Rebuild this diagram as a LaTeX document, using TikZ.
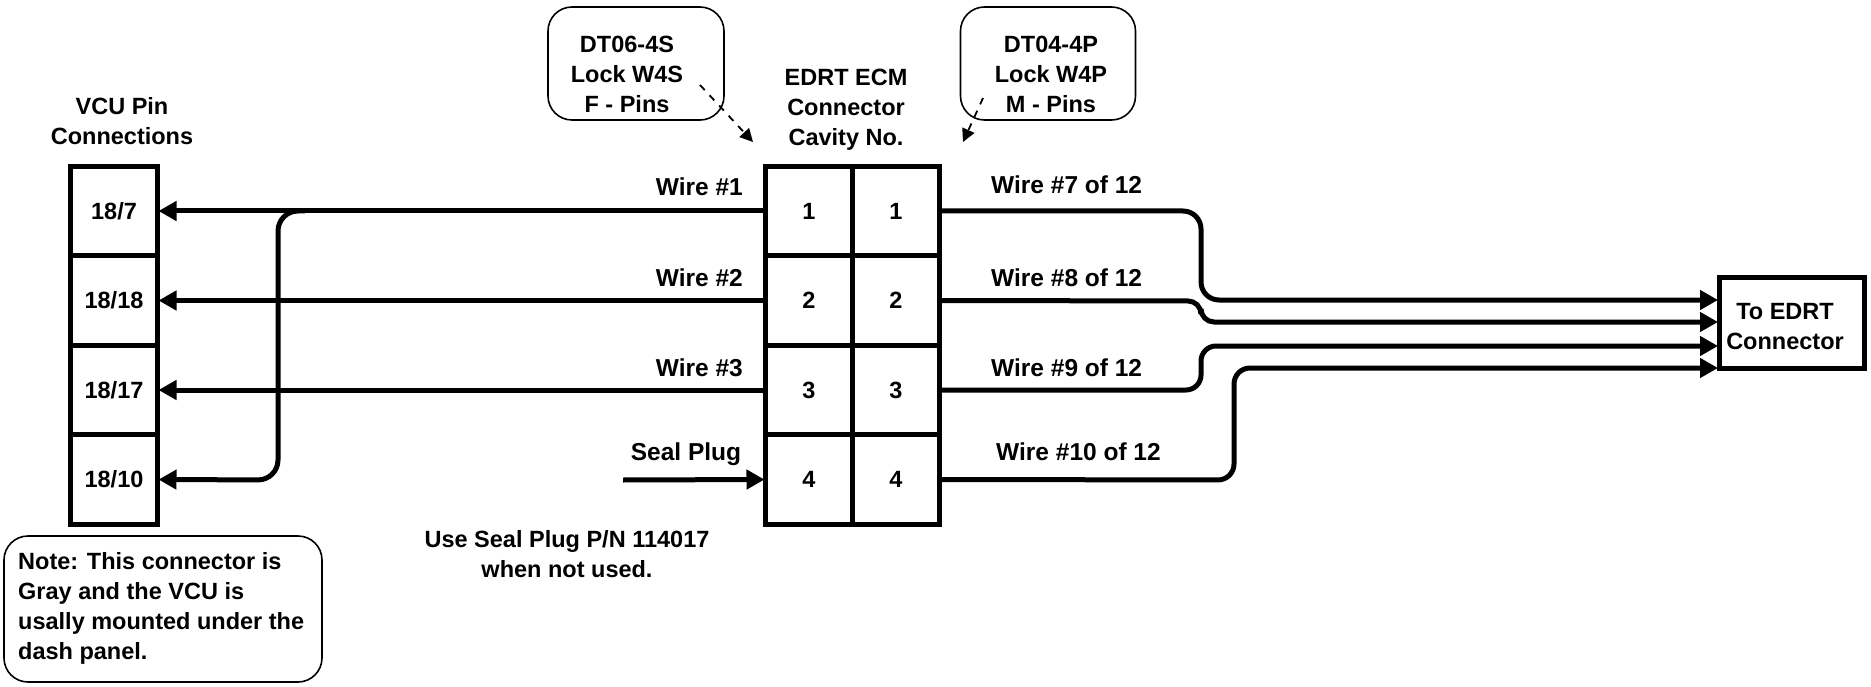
\documentclass[tikz,border=0pt]{standalone}
\usepackage{fontspec}
\setmainfont{Liberation Sans}
\usetikzlibrary{arrows.meta}
\tikzset{
    cell/.style={draw,line width=5pt,outer sep=0pt,inner sep=0pt,minimum width=87pt,minimum height=89.5pt,font=\fontsize{23.5}{30}\selectfont\bfseries},
    note/.style={draw,line width=1.6pt,rounded corners=24pt,outer sep=0pt,inner sep=0pt},
    wire/.style={line width=5pt,-{Triangle[length=18pt,width=19pt]},shorten >=1pt},
    pointer/.style={line width=1.8pt,dash pattern=on 7pt off 7pt,-{Triangle[length=13pt,width=13pt]}},
    txt/.style={font=\fontsize{24.5}{30}\selectfont\bfseries,inner sep=0pt,text height=18pt,text depth=0pt},
    blocktxt/.style={font=\fontsize{23.5}{30}\selectfont\bfseries,inner sep=0pt,align=center}
}
\begin{document}
\begin{tikzpicture}[x=1pt,y=-1pt]
    \useasboundingbox (0,0) rectangle (1871,687);

    \node[note,minimum width=176pt,minimum height=113pt] (boxs) at (636,63.5) {};
    \node[note,minimum width=175pt,minimum height=113pt] (boxp) at (1048,63.5) {};
    \node[note,minimum width=318pt,minimum height=146pt] (boxn) at (163,609) {};

    \node[blocktxt] (ts) at (627,74) {DT06-4S\\Lock W4S\\F - Pins};
    \node[blocktxt] (tp) at (1051,74) {DT04-4P\\Lock W4P\\M - Pins};
    \node[blocktxt,align=left,anchor=north west] (tn) at (18,552) {Note: This connector is\\Gray and the VCU is\\usally mounted under the\\dash panel.};
    \node[blocktxt] (tv) at (122,121) {VCU Pin\\Connections};
    \node[blocktxt] (te) at (846,110) {EDRT ECM\\Connector\\Cavity No.};
    \node[blocktxt] (tu) at (567,554) {Use Seal Plug P/N 114017\\when not used.};

    \node[cell] (v1) at (114,211) {18/7};
    \node[cell] (v2) at (114,300.5) {18/18};
    \node[cell] (v3) at (114,390) {18/17};
    \node[cell] (v4) at (114,479.5) {18/10};

    \node[cell] (f1) at (809,211) {1};
    \node[cell] (f2) at (809,300.5) {2};
    \node[cell] (f3) at (809,390) {3};
    \node[cell] (f4) at (809,479.5) {4};

    \node[cell] (m1) at (896,211) {1};
    \node[cell] (m2) at (896,300.5) {2};
    \node[cell] (m3) at (896,390) {3};
    \node[cell] (m4) at (896,479.5) {4};

    \node[draw,line width=5pt,outer sep=0pt,inner sep=0pt,minimum width=145pt,minimum height=91pt] (edrt) at (1791.5,323) {};
    \node[blocktxt] (tc) at (1785,327) {To EDRT\\Connector};

    \node[txt,anchor=east] (w1) at (743,187) {Wire \#1};
    \node[txt,anchor=east] (w2) at (743,277) {Wire \#2};
    \node[txt,anchor=east] (w3) at (743,367) {Wire \#3};
    \node[txt] (seal) at (686,451) {Seal Plug};
    \node[txt,anchor=west] (w7) at (991,185) {Wire \#7 of 12};
    \node[txt,anchor=west] (w8) at (991,277) {Wire \#8 of 12};
    \node[txt,anchor=west] (w9) at (991,367) {Wire \#9 of 12};
    \node[txt,anchor=west] (w10) at (996,451) {Wire \#10 of 12};

    \coordinate (branch) at (305,211);
    \coordinate (plug) at (623,480);
    \coordinate (in7) at (1719,300);
    \coordinate (in8) at (1719,322);
    \coordinate (in9) at (1719,346);
    \coordinate (in10) at (1719,368);
    \coordinate (froms) at (700,85);
    \coordinate (tos) at (753,142);
    \coordinate (fromp) at (983,98);
    \coordinate (top) at (963,142);

    \draw[wire] (f1.west) -- (v1.east);
    \draw[wire] (f2.west) -- (v2.east);
    \draw[wire] (f3.west) -- (v3.east);
    \draw[wire,rounded corners=20pt] (branch) -- (278,211) -- (278,480) -- (v4.east);
    \draw[wire] (plug) -- (f4.west);

    \draw[wire,rounded corners=18pt] (m1.east) -- (1201,211) -- (1201,300) -- (in7);
    \draw[wire,rounded corners=13pt] (m2.east) -- (1201,301) -- (1201,322) -- (in8);
    \draw[wire,rounded corners=15pt] (m3.east) -- (1201,390) -- (1201,346) -- (in9);
    \draw[wire,rounded corners=16pt] (m4.east) -- (1234,480) -- (1234,368) -- (in10);

    \draw[pointer] (froms) -- (tos);
    \draw[pointer] (fromp) -- (top);
\end{tikzpicture}
\end{document}
